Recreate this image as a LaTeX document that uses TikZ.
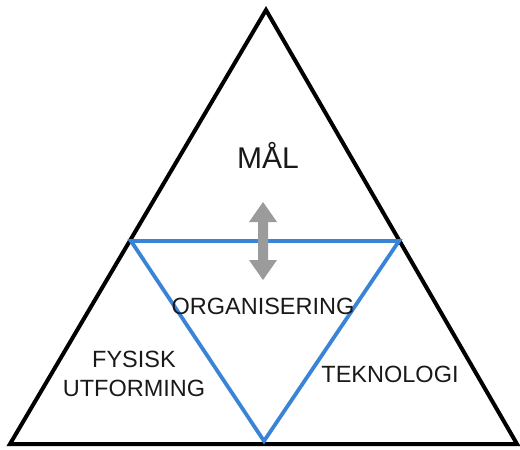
\documentclass[tikz,border=0pt]{standalone}
\usepackage{fontspec}
\setmainfont{Liberation Sans}
\definecolor{triblue}{RGB}{58,132,216}
\definecolor{arrowgray}{RGB}{155,155,155}
\definecolor{txt}{RGB}{25,25,25}
\begin{document}
\begin{tikzpicture}[x=1pt,y=-1pt,
  outer/.style={draw=black,line width=4pt,line join=miter},
  inner/.style={draw=triblue,line width=3.8pt,line join=miter},
  lbl/.style={text=txt,inner sep=0pt,font=\fontsize{23.5}{29}\selectfont,align=center}]
\useasboundingbox (0,0) rectangle (520,450);
\coordinate (apex) at (266,10);
\coordinate (bl) at (10,444);
\coordinate (br) at (517,444);
\coordinate (il) at (131,241);
\coordinate (ir) at (399,241);
\coordinate (ib) at (264,441);
\draw[outer] (apex) -- (bl) -- (br) -- cycle;
\draw[inner] (il) -- (ir) -- (ib) -- cycle;
\fill[arrowgray] (263,202) -- (277,222) -- (268,222) -- (268,260) -- (277,260)
  -- (263,280) -- (249,260) -- (258,260) -- (258,222) -- (249,222) -- cycle;
\node[lbl,font=\fontsize{30}{36}\selectfont] (mal) at (268,155) {MÅL};
\node[lbl] (org) at (263,306) {ORGANISERING};
\node[lbl] (fys) at (134,374) {FYSISK\\UTFORMING};
\node[lbl] (tek) at (390,374) {TEKNOLOGI};
\end{tikzpicture}
\end{document}
